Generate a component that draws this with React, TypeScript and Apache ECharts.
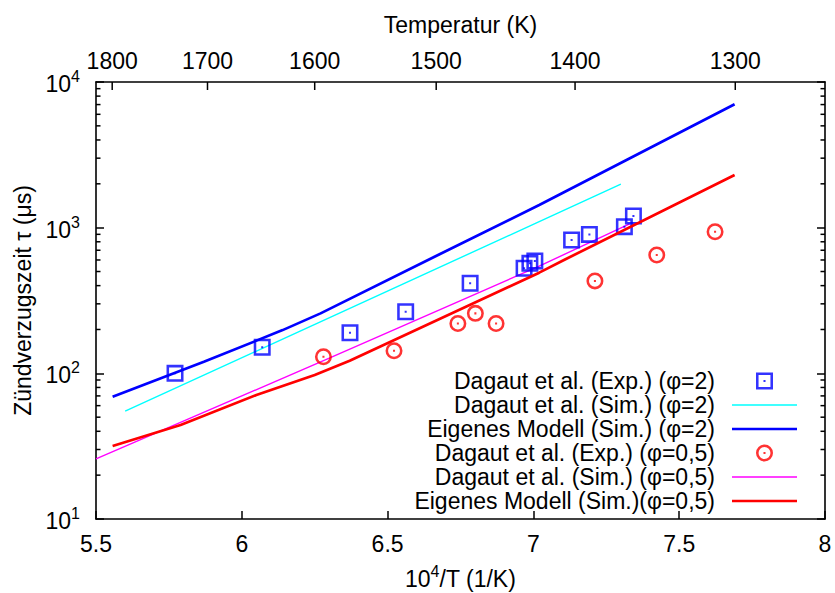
import React, { useEffect, useRef } from "react";
import * as echarts from "echarts";

// ---- data (x = 10^4/T in 1/K, y = ignition delay in µs) ----
const expPhi2X = [5.771, 6.07, 6.371, 6.562, 6.783, 6.968, 6.988, 7.005, 7.131, 7.192, 7.312, 7.343];
const expPhi2Y = [100, 151, 190, 265, 415, 526, 569, 590, 822, 899, 1016, 1202];

const simDagPhi2X = [5.6, 6.2, 7.02, 7.3];
const simDagPhi2Y = [55, 195, 1100, 1990];

const ownPhi2X = [5.557, 5.87, 6.14, 6.27, 6.68, 7.02, 7.69];
const ownPhi2Y = [69, 120, 198, 258, 660, 1432, 7036];

const expPhi05X = [6.28, 6.522, 6.741, 6.801, 6.872, 7.211, 7.423, 7.623];
const expPhi05Y = [130, 143, 220, 258, 220, 431, 649, 938];

const simDagPhi05X = [5.5, 6.3, 7.02, 7.33];
const simDagPhi05Y = [25.9, 127, 545, 1060];

const ownPhi05X = [5.557, 5.79, 6.05, 6.25, 6.37, 7.02, 7.11, 7.69];
const ownPhi05Y = [31.7, 44.2, 71, 97.5, 122, 491, 607, 2300];

// top axis: temperatures in K (placed at 10^4/T)
const topTemps = [1800, 1700, 1600, 1500, 1400, 1300];

// minor tick values of the log axis (2..9 per decade)
const minorTickValues = [
  20, 30, 40, 50, 60, 70, 80, 90,
  200, 300, 400, 500, 600, 700, 800, 900,
  2000, 3000, 4000, 5000, 6000, 7000, 8000, 9000,
];

const names = [
  "Dagaut et al. (Exp.) (φ=2)",
  "Dagaut et al. (Sim.) (φ=2)",
  "Eigenes Modell (Sim.) (φ=2)",
  "Dagaut et al. (Exp.) (φ=0,5)",
  "Dagaut et al. (Sim.) (φ=0,5)",
  "Eigenes Modell (Sim.)(φ=0,5)",
];

const zip = (xs: number[], ys: number[]) => xs.map((x, i) => [x, ys[i]]);

const FONT = "'Liberation Sans', Arial, Helvetica, sans-serif";
const FS = 23;

const squareSym = "path://M0,0H20V20H0Z M3,3V17H17V3Z M8.8,8.8H11.2V11.2H8.8Z";
const circleSym =
  "path://M0,10A10,10,0,1,1,20,10A10,10,0,1,1,0,10Z M3,10A7,7,0,1,0,17,10A7,7,0,1,0,3,10Z M8.8,8.8H11.2V11.2H8.8Z";
const thickIcon = "path://M0,0H65V2.7H0Z";
const thinIcon = "path://M0,0H65V1.4H0Z";

export default function App() {
  const ref = useRef<HTMLDivElement>(null);
  useEffect(() => {
    if (!ref.current) return;
    const chart = echarts.init(ref.current, null, { renderer: "svg" });
    const axisLine = { show: true, lineStyle: { color: "#000", width: 1.6 } };
    const tick = { show: true, inside: true, length: 8, lineStyle: { color: "#000", width: 1.5 } };
    const supRich = {
      b: { fontSize: FS, fontFamily: FONT, color: "#000", lineHeight: 27, verticalAlign: "bottom" },
      s: { fontSize: 16, fontFamily: FONT, color: "#000", lineHeight: 16, verticalAlign: "top" },
    };
    const tickStyle = { stroke: "#000", lineWidth: 1.5, fill: null };
    const option: any = {
      animation: false,
      backgroundColor: "#fff",
      textStyle: { fontFamily: FONT },
      grid: { left: 96, top: 82, width: 729, height: 437, containLabel: false, outerBoundsMode: "none" },
      legend: {
        orient: "vertical",
        right: 38,
        top: 369,
        padding: 0,
        align: "right",
        itemWidth: 65,
        itemHeight: 17,
        itemGap: 0,
        selectedMode: false,
        itemStyle: { borderWidth: 0 },
        textStyle: { fontSize: FS, fontFamily: FONT, color: "#000", lineHeight: 24, padding: [0, 12, 0, 0] },
        data: [
          { name: names[0] },
          { name: names[1], icon: thinIcon },
          { name: names[2], icon: thickIcon },
          { name: names[3] },
          { name: names[4], icon: thinIcon },
          { name: names[5], icon: thickIcon },
        ],
      },
      xAxis: [
        {
          type: "value",
          position: "bottom",
          min: 5.5,
          max: 8,
          interval: 0.5,
          axisLine,
          axisTick: tick,
          splitLine: { show: false },
          axisLabel: { fontSize: FS, fontFamily: FONT, color: "#000", margin: 13, formatter: (v: number) => String(v) },
          name: "{b|10}{s|4}{b|/T (1/K)}",
          nameLocation: "middle",
          nameGap: 44,
          nameTextStyle: { rich: supRich },
        },
        {
          type: "value",
          position: "top",
          min: 5.5,
          max: 8,
          axisLine,
          axisTick: { show: false },
          splitLine: { show: false },
          axisLabel: {
            fontSize: FS,
            fontFamily: FONT,
            color: "#000",
            margin: 10,
            showMinLabel: true,
            hideOverlap: false,
            customValues: topTemps.map((t) => 10000 / t),
            formatter: (v: number) => String(Math.round(10000 / v)),
          },
          name: "Temperatur (K)",
          nameLocation: "middle",
          nameGap: 46,
          nameTextStyle: { fontSize: FS, fontFamily: FONT, color: "#000" },
        },
      ],
      yAxis: [
        {
          type: "log",
          logBase: 10,
          min: 10,
          max: 10000,
          position: "left",
          axisLine,
          axisTick: tick,
          minorTick: { show: false },
          splitLine: { show: false },
          axisLabel: {
            margin: 16,
            formatter: (v: number) => `{b|10}{s|${Math.round(Math.log10(v))}}`,
            rich: supRich,
          },
          name: "Zündverzugszeit τ (μs)",
          nameLocation: "middle",
          nameGap: 51,
          nameTextStyle: { fontSize: FS, fontFamily: FONT, color: "#000" },
        },
        {
          type: "log",
          logBase: 10,
          min: 10,
          max: 10000,
          position: "right",
          axisLine,
          axisTick: tick,
          minorTick: { show: false },
          splitLine: { show: false },
          axisLabel: { show: false },
        },
      ],
      series: [
        {
          name: "minorTicks",
          type: "custom",
          silent: true,
          clip: false,
          z: 5,
          data: minorTickValues.map((v) => [5.5, v]),
          encode: { x: 0, y: 1 },
          renderItem: (params: any, api: any) => {
            const cs = params.coordSys;
            const y = api.coord([api.value(0), api.value(1)])[1];
            return {
              type: "group",
              children: [
                { type: "line", shape: { x1: cs.x, y1: y, x2: cs.x + 4.5, y2: y }, style: tickStyle },
                { type: "line", shape: { x1: cs.x + cs.width - 4.5, y1: y, x2: cs.x + cs.width, y2: y }, style: tickStyle },
              ],
            };
          },
        },
        {
          name: "topTicks",
          type: "custom",
          silent: true,
          clip: false,
          z: 5,
          data: topTemps.map((t) => [10000 / t, 10000]),
          encode: { x: 0, y: 1 },
          renderItem: (params: any, api: any) => {
            const cs = params.coordSys;
            const x = api.coord([api.value(0), api.value(1)])[0];
            return { type: "line", shape: { x1: x, y1: cs.y, x2: x, y2: cs.y + 8 }, style: tickStyle };
          },
        },
        {
          name: names[0],
          type: "scatter",
          data: zip(expPhi2X, expPhi2Y),
          symbol: squareSym,
          symbolSize: 17,
          itemStyle: { color: "#0000ff" },
          z: 3,
        },
        {
          name: names[1],
          type: "line",
          data: zip(simDagPhi2X, simDagPhi2Y),
          symbol: "none",
          color: "#00ffff",
          lineStyle: { color: "#00ffff", width: 1.4 },
          z: 2,
        },
        {
          name: names[2],
          type: "line",
          data: zip(ownPhi2X, ownPhi2Y),
          symbol: "none",
          color: "#0000ff",
          lineStyle: { color: "#0000ff", width: 2.7 },
          z: 2,
        },
        {
          name: names[3],
          type: "scatter",
          data: zip(expPhi05X, expPhi05Y),
          symbol: circleSym,
          symbolSize: 17,
          itemStyle: { color: "#ff0000" },
          z: 3,
        },
        {
          name: names[4],
          type: "line",
          data: zip(simDagPhi05X, simDagPhi05Y),
          symbol: "none",
          color: "#ff00ff",
          lineStyle: { color: "#ff00ff", width: 1.4 },
          z: 2,
        },
        {
          name: names[5],
          type: "line",
          data: zip(ownPhi05X, ownPhi05Y),
          symbol: "none",
          color: "#ff0000",
          lineStyle: { color: "#ff0000", width: 2.7 },
          z: 4,
        },
      ],
    };
    chart.setOption(option);
    return () => chart.dispose();
  }, []);
  return (
    <div
      ref={ref}
      style={{ position: "fixed", left: 0, top: 0, width: 835, height: 593, background: "#fff" }}
    />
  );
}
